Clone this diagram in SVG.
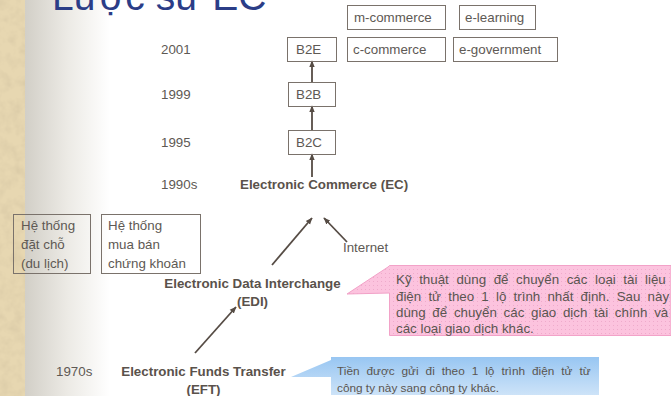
<svg xmlns="http://www.w3.org/2000/svg" width="671" height="396" viewBox="0 0 671 396">
  <defs>
    <style>
      .t { font-family: "Liberation Sans", Arial, sans-serif; font-size: 13.33px; fill: #5e5954; }
      .b { font-family: "Liberation Sans", Arial, sans-serif; font-size: 13.33px; font-weight: bold; fill: #5a524b; }
      .box { fill: none; stroke: #7a726b; stroke-width: 1; }
      .conn { stroke: #564c45; stroke-width: 1.8; fill: none; marker-end: url(#ah); }
      .note { font-family: "Liberation Sans", Arial, sans-serif; font-size: 13.33px; fill: #5a5550; }
      .note-s { font-family: "Liberation Sans", Arial, sans-serif; font-size: 11.8px; fill: #5a5550; }
    </style>
    <marker id="ah" viewBox="0 0 10 10" refX="9" refY="5" markerWidth="7" markerHeight="7" markerUnits="userSpaceOnUse" orient="auto">
      <path d="M0,1 L10,5 L0,9 z" fill="#564c45"/>
    </marker>
    <linearGradient id="fade" x1="0" y1="0" x2="1" y2="0">
      <stop offset="0" stop-color="#d2cfc7"/>
      <stop offset="0.5" stop-color="#eceae5"/>
      <stop offset="1" stop-color="#ffffff"/>
    </linearGradient>
    <linearGradient id="sky" x1="0" y1="0" x2="0" y2="1">
      <stop offset="0" stop-color="#98c6f2"/>
      <stop offset="1" stop-color="#cde3f8"/>
    </linearGradient>
    <pattern id="dots" width="4" height="4" patternUnits="userSpaceOnUse">
      <rect width="4" height="4" fill="#fcc3de"/>
      <rect x="1" y="1" width="1" height="1" fill="#efaacb"/>
    </pattern>
    <filter id="paper" x="0" y="0" width="100%" height="100%">
      <feTurbulence type="fractalNoise" baseFrequency="0.09" numOctaves="3" seed="4"/>
      <feColorMatrix type="matrix" values="0 0 0 0 0.62  0 0 0 0 0.52  0 0 0 0 0.34  0.9 0 0 0 -0.35"/>
    </filter>
  </defs>

  <!-- page background with paper strip on the left -->
  <rect width="671" height="396" fill="#ffffff"/>
  <rect x="0" y="0" width="25" height="396" fill="#e7d7b1"/>
  <rect x="0" y="0" width="25" height="396" filter="url(#paper)"/>
  <rect x="25" y="0" width="85" height="396" fill="url(#fade)"/>

  <!-- title -->
  <text x="52" y="10" font-family="'Liberation Sans', Arial, sans-serif" font-size="39" fill="#2b3d87">Lược sử EC</text>

  <!-- timeline years -->
  <g id="years">
    <text class="t" x="161" y="53.5">2001</text>
    <text class="t" x="161" y="99">1999</text>
    <text class="t" x="161" y="146.5">1995</text>
    <text class="t" x="161" y="189">1990s</text>
    <text class="t" x="56" y="376">1970s</text>
  </g>

  <g id="connectors">
    <line class="conn" x1="312" y1="177" x2="312" y2="154"/>
    <line class="conn" x1="312" y1="130" x2="312" y2="106"/>
    <line class="conn" x1="312" y1="82" x2="312" y2="61"/>
    <line class="conn" x1="272" y1="265" x2="312" y2="218"/>
    <line class="conn" x1="347" y1="242" x2="324" y2="218"/>
    <line class="conn" x1="195" y1="353" x2="236" y2="307"/>
  </g>

  <g id="m-commerce">
    <rect class="box" x="347.5" y="5.5" width="98" height="24"/>
    <text class="t" x="354" y="22">m-commerce</text>
  </g>
  <g id="e-learning">
    <rect class="box" x="459.5" y="5.5" width="76" height="24"/>
    <text class="t" x="465" y="22">e-learning</text>
  </g>
  <g id="b2e">
    <rect class="box" x="287.5" y="37.5" width="49" height="24"/>
    <text class="t" x="296" y="54">B2E</text>
  </g>
  <g id="c-commerce">
    <rect class="box" x="347.5" y="37.5" width="98" height="24"/>
    <text class="t" x="353" y="54">c-commerce</text>
  </g>
  <g id="e-government">
    <rect class="box" x="453.5" y="37.5" width="104" height="24"/>
    <text class="t" x="459" y="54">e-government</text>
  </g>
  <g id="b2b">
    <rect class="box" x="288.5" y="82.5" width="47" height="24"/>
    <text class="t" x="296" y="99">B2B</text>
  </g>
  <g id="b2c">
    <rect class="box" x="288.5" y="130.5" width="47" height="24"/>
    <text class="t" x="296" y="147">B2C</text>
  </g>
  <g id="ec">
    <text class="b" x="240" y="189">Electronic Commerce (EC)</text>
  </g>

  <g id="travel-booking">
    <rect class="box" x="13.5" y="214.5" width="77" height="59"/>
    <text class="t" x="21" y="229.5">Hệ thống</text>
    <text class="t" x="21" y="248.5">đặt chỗ</text>
    <text class="t" x="21" y="267.5">(du lịch)</text>
  </g>
  <g id="securities-trading">
    <rect class="box" x="101.5" y="214.5" width="99" height="59"/>
    <text class="t" x="108" y="229.5">Hệ thống</text>
    <text class="t" x="108" y="248.5">mua bán</text>
    <text class="t" x="108" y="267.5">chứng khoán</text>
  </g>

  <g id="internet">
    <text class="t" x="343" y="252">Internet</text>
  </g>

  <g id="edi">
    <text class="b" x="252.5" y="288" text-anchor="middle">Electronic Data Interchange</text>
    <text class="b" x="252.5" y="306" text-anchor="middle">(EDI)</text>
  </g>

  <g id="eft">
    <text class="b" x="203.5" y="376" text-anchor="middle">Electronic Funds Transfer</text>
    <text class="b" x="203.5" y="394" text-anchor="middle">(EFT)</text>
  </g>

  <g id="edi-note">
    <path d="M389.5,265.5 H671 V335.5 H389.5 V293 L347,294 L388,267 Z" fill="url(#dots)" stroke="#f2a2c8" stroke-width="1"/>
    <text class="note" x="396" y="284" word-spacing="3.9">Kỹ thuật dùng để chuyển các loại tài liệu</text>
    <text class="note" x="396" y="300.5" word-spacing="3.5">điện tử theo 1 lộ trình nhất định. Sau này</text>
    <text class="note" x="396" y="317" word-spacing="3">dùng để chuyển các giao dịch tài chính và</text>
    <text class="note" x="396" y="333">các loại giao dịch khác.</text>
  </g>

  <g id="eft-note">
    <path d="M331,357 H599 V395 H331 V377 L291,377 L331,360 Z" fill="url(#sky)"/>
    <text class="note-s" x="337" y="375" word-spacing="3.7">Tiền được gửi đi theo 1 lộ trình điện tử từ</text>
    <text class="note-s" x="337" y="392">công ty này sang công ty khác.</text>
  </g>
</svg>
